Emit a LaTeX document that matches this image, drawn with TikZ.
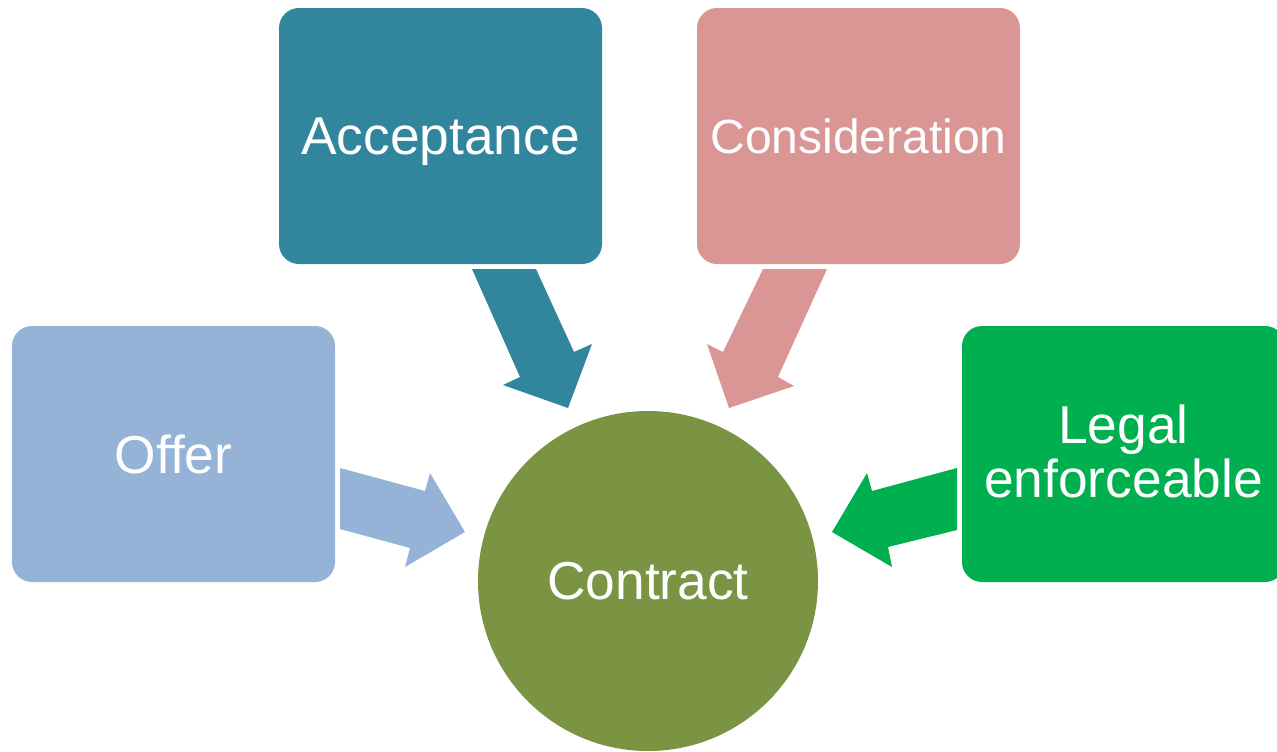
\documentclass[tikz,border=0pt]{standalone}
\usepackage{fontspec}
\setmainfont{Liberation Sans}
\definecolor{offerc}{HTML}{95B3D7}
\definecolor{acceptc}{HTML}{31859C}
\definecolor{considc}{HTML}{D99694}
\definecolor{legalc}{HTML}{00B050}
\definecolor{contractc}{HTML}{7A9444}
\tikzset{
  box/.style={rectangle, rounded corners=15pt, minimum width=242.25pt, minimum height=192pt, inner sep=0pt, text=white, align=center, font=\fontsize{40}{40.5}\selectfont},
  circ/.style={circle, minimum size=255pt, inner sep=0pt, text=white, font=\fontsize{40}{40.5}\selectfont},
}
\begin{document}
\begin{tikzpicture}[x=0.75pt, y=-0.75pt]
\clip (0,0) rectangle (1277,751);
\node[box, fill=offerc] (offer) at (173.5,454) {Offer};
\node[box, fill=acceptc, text depth=0pt] (accept) at (440.5,136) {Acceptance};
\node[box, fill=considc, font=\fontsize{36}{40}\selectfont] (consid) at (858.5,136) {Consideration};
\node[box, fill=legalc, text depth=4pt] (legal) at (1123.5,454) {Legal\\enforceable};
\node[circ, fill=contractc] (contract) at (648,581) {Contract};
% block arrows
\fill[offerc] (340,468) -- (425,491) -- (430,473) -- (465,532) -- (405,567) -- (410,548) -- (340,529) -- cycle;
\fill[acceptc] (472,269) -- (536,269) -- (574,352) -- (592,344) -- (568,408) -- (503,385) -- (520,377) -- cycle;
\fill[considc] (827,269) -- (763,269) -- (723,352) -- (707,344) -- (729,408) -- (794,386) -- (778,377) -- cycle;
\fill[legalc] (957,468) -- (872,491) -- (867,473) -- (832,532) -- (892,567) -- (888,547) -- (957,530) -- cycle;
\end{tikzpicture}
\end{document}
